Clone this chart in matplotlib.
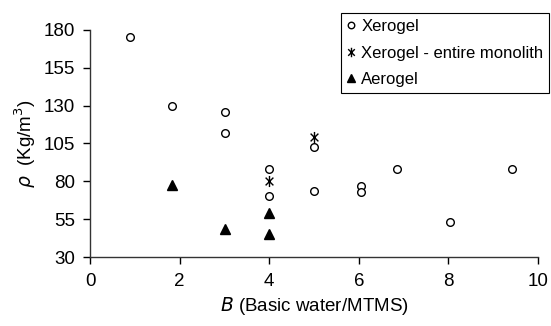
import matplotlib
matplotlib.use("Agg")
import matplotlib.pyplot as plt
from matplotlib.path import Path

plt.rcParams['font.family'] = ['Liberation Sans', 'DejaVu Sans']

# Data
xerogel_x = [0.89, 1.83, 3.02, 3.02, 4.0, 4.0, 5.0, 5.0, 6.04, 6.04, 6.85, 8.04, 9.43]
xerogel_y = [175, 129.5, 126, 112, 88, 70.5, 103, 74, 77, 73, 88, 53, 88]
mono_x = [4.0, 5.0]
mono_y = [80, 109.5]
aero_x = [1.82, 3.02, 4.0, 4.0]
aero_y = [77.5, 48.5, 59.5, 45.5]

xticks = [0, 2, 4, 6, 8, 10]
yticks = [30, 55, 80, 105, 130, 155, 180]

star = Path([(0, -1), (0, 1), (-0.7, -0.7), (0.7, 0.7), (-0.7, 0.7), (0.7, -0.7)],
            [Path.MOVETO, Path.LINETO, Path.MOVETO, Path.LINETO, Path.MOVETO, Path.LINETO])

fig = plt.figure(figsize=(5.51, 3.26), dpi=100)
ax = fig.add_axes([90/551, 1-257.3/326, (538-90)/551, (257.3-29.7)/326])

ax.plot(xerogel_x, xerogel_y, linestyle='none', marker='o', markersize=5.5,
        markerfacecolor='white', markeredgecolor='black', markeredgewidth=1, label='Xerogel', clip_on=False)
ax.plot(mono_x, mono_y, linestyle='none', marker=star, markersize=8,
        markerfacecolor='none', markeredgecolor='black', markeredgewidth=1,
        label='Xerogel - entire monolith', clip_on=False)
ax.plot(aero_x, aero_y, linestyle='none', marker='^', markersize=7,
        color='black', label='Aerogel', clip_on=False)

ax.set_xlim(0, 10)
ax.set_ylim(30, 180)
ax.set_xticks(xticks)
ax.set_yticks(yticks)
ax.tick_params(direction='out', length=5, width=1, labelsize=13.5, pad=6)
for s in ['top', 'right']:
    ax.spines[s].set_visible(False)
for s in ['left', 'bottom']:
    ax.spines[s].set_linewidth(1)
    ax.spines[s].set_color('#333333')

ax.set_xlabel(r'$\it{B}$ (Basic water/MTMS)', fontsize=13.5, labelpad=4)
ax.set_ylabel(r'$\it{\rho}$  (Kg/m$^3$)', fontsize=13.5, labelpad=4)

leg = fig.legend(loc='upper right', bbox_to_anchor=(0.997, 0.960), bbox_transform=fig.transFigure,
                 fontsize=12, frameon=True, fancybox=False, edgecolor='black', framealpha=1,
                 handlelength=0.6, handletextpad=0.3, borderpad=0.35, labelspacing=0.7, borderaxespad=0,
                 markerscale=0.85)
leg.get_frame().set_linewidth(0.8)

fig.savefig('out.png', dpi=100)
